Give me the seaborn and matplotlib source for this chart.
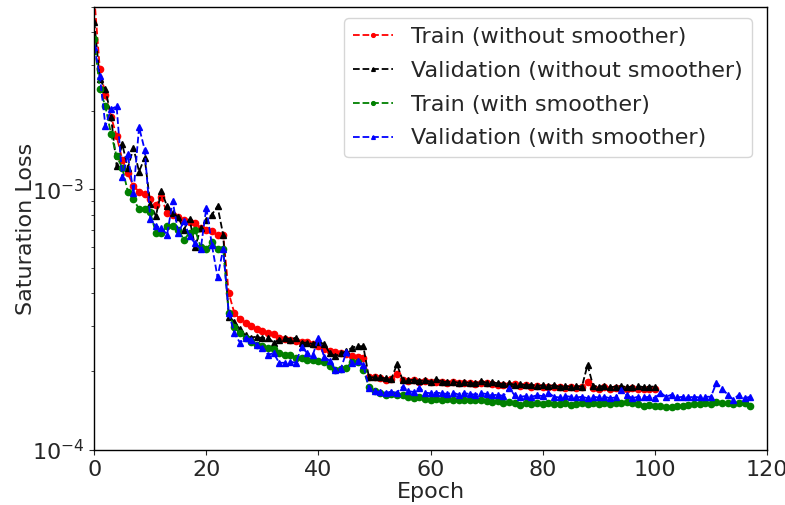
import numpy as np
import pandas as pd
import matplotlib
matplotlib.use("Agg")
import matplotlib.pyplot as plt
import seaborn as sns

# Saturation loss per epoch
train_no_smoother = [
    5.5e-3, 2.9e-3, 2.3e-3, 1.9e-3, 1.6e-3, 1.3e-3, 1.15e-3, 1.03e-3, 0.98e-3, 0.96e-3,
    0.915e-3, 0.87e-3, 0.93e-3, 0.81e-3, 0.80e-3, 0.78e-3, 0.76e-3, 0.75e-3, 0.74e-3, 0.71e-3,
    0.70e-3, 0.69e-3, 0.665e-3, 0.67e-3, 0.40e-3, 0.335e-3, 0.318e-3, 0.308e-3, 0.298e-3, 0.292e-3,
    0.287e-3, 0.28e-3, 0.279e-3, 0.27e-3, 0.266e-3, 0.265e-3, 0.262e-3, 0.26e-3, 0.259e-3, 0.254e-3,
    0.25e-3, 0.245e-3, 0.24e-3, 0.237e-3, 0.235e-3, 0.233e-3, 0.23e-3, 0.228e-3, 0.226e-3, 0.19e-3,
    0.19e-3, 0.189e-3, 0.186e-3, 0.187e-3, 0.195e-3, 0.185e-3, 0.184e-3, 0.185e-3, 0.183e-3, 0.184e-3,
    0.182e-3, 0.183e-3, 0.182e-3, 0.181e-3, 0.182e-3, 0.180e-3, 0.181e-3, 0.180e-3, 0.179e-3, 0.181e-3,
    0.180e-3, 0.179e-3, 0.178e-3, 0.178e-3, 0.177e-3, 0.179e-3, 0.176e-3, 0.177e-3, 0.175e-3, 0.176e-3,
    0.174e-3, 0.175e-3, 0.174e-3, 0.175e-3, 0.173e-3, 0.174e-3, 0.173e-3, 0.174e-3, 0.182e-3, 0.173e-3,
    0.172e-3, 0.174e-3, 0.172e-3, 0.173e-3, 0.171e-3, 0.172e-3, 0.173e-3, 0.171e-3, 0.172e-3, 0.171e-3,
    0.172e-3,
]

val_no_smoother = [
    4.4e-3, 2.65e-3, 2.42e-3, 1.9e-3, 1.23e-3, 1.49e-3, 1.21e-3, 1.44e-3, 1.17e-3, 1.32e-3,
    0.88e-3, 0.79e-3, 0.985e-3, 0.86e-3, 0.81e-3, 0.78e-3, 0.70e-3, 0.77e-3, 0.60e-3, 0.71e-3,
    0.76e-3, 0.80e-3, 0.86e-3, 0.67e-3, 0.325e-3, 0.31e-3, 0.29e-3, 0.275e-3, 0.27e-3, 0.272e-3,
    0.268e-3, 0.27e-3, 0.258e-3, 0.265e-3, 0.27e-3, 0.265e-3, 0.27e-3, 0.258e-3, 0.258e-3, 0.255e-3,
    0.26e-3, 0.255e-3, 0.236e-3, 0.229e-3, 0.235e-3, 0.239e-3, 0.247e-3, 0.25e-3, 0.25e-3, 0.19e-3,
    0.19e-3, 0.19e-3, 0.188e-3, 0.187e-3, 0.213e-3, 0.186e-3, 0.185e-3, 0.186e-3, 0.184e-3, 0.185e-3,
    0.183e-3, 0.187e-3, 0.183e-3, 0.182e-3, 0.183e-3, 0.181e-3, 0.182e-3, 0.181e-3, 0.180e-3, 0.184e-3,
    0.181e-3, 0.182e-3, 0.180e-3, 0.179e-3, 0.180e-3, 0.178e-3, 0.179e-3, 0.177e-3, 0.178e-3, 0.176e-3,
    0.177e-3, 0.176e-3, 0.177e-3, 0.175e-3, 0.176e-3, 0.175e-3, 0.176e-3, 0.175e-3, 0.212e-3, 0.176e-3,
    0.175e-3, 0.176e-3, 0.174e-3, 0.175e-3, 0.176e-3, 0.174e-3, 0.175e-3, 0.176e-3, 0.174e-3, 0.175e-3,
    0.175e-3,
]

train_smoother = [
    3.77e-3, 2.42e-3, 2.08e-3, 1.63e-3, 1.34e-3, 1.21e-3, 0.98e-3, 0.915e-3, 0.84e-3, 0.84e-3,
    0.815e-3, 0.68e-3, 0.68e-3, 0.72e-3, 0.72e-3, 0.70e-3, 0.64e-3, 0.68e-3, 0.70e-3, 0.60e-3,
    0.59e-3, 0.625e-3, 0.59e-3, 0.59e-3, 0.336e-3, 0.295e-3, 0.28e-3, 0.27e-3, 0.26e-3, 0.253e-3,
    0.25e-3, 0.247e-3, 0.243e-3, 0.235e-3, 0.232e-3, 0.232e-3, 0.226e-3, 0.225e-3, 0.222e-3, 0.222e-3,
    0.22e-3, 0.218e-3, 0.209e-3, 0.203e-3, 0.205e-3, 0.207e-3, 0.218e-3, 0.218e-3, 0.203e-3, 0.175e-3,
    0.168e-3, 0.165e-3, 0.163e-3, 0.164e-3, 0.163e-3, 0.163e-3, 0.160e-3, 0.158e-3, 0.159e-3, 0.157e-3,
    0.156e-3, 0.157e-3, 0.156e-3, 0.157e-3, 0.155e-3, 0.156e-3, 0.155e-3, 0.156e-3, 0.155e-3, 0.155e-3,
    0.154e-3, 0.153e-3, 0.154e-3, 0.152e-3, 0.153e-3, 0.152e-3, 0.149e-3, 0.151e-3, 0.150e-3, 0.151e-3,
    0.150e-3, 0.151e-3, 0.150e-3, 0.150e-3, 0.151e-3, 0.149e-3, 0.150e-3, 0.151e-3, 0.150e-3, 0.151e-3,
    0.150e-3, 0.151e-3, 0.150e-3, 0.152e-3, 0.151e-3, 0.153e-3, 0.151e-3, 0.150e-3, 0.148e-3, 0.149e-3,
    0.147e-3, 0.148e-3, 0.146e-3, 0.146e-3, 0.147e-3, 0.148e-3, 0.149e-3, 0.150e-3, 0.150e-3, 0.151e-3,
    0.150e-3, 0.153e-3, 0.152e-3, 0.151e-3, 0.150e-3, 0.151e-3, 0.152e-3, 0.148e-3,
]

val_smoother = [
    3.52e-3, 2.72e-3, 1.75e-3, 2.03e-3, 2.08e-3, 1.11e-3, 1.36e-3, 0.97e-3, 1.73e-3, 1.42e-3,
    0.77e-3, 0.72e-3, 0.71e-3, 0.67e-3, 0.90e-3, 0.68e-3, 0.755e-3, 0.66e-3, 0.62e-3, 0.59e-3,
    0.85e-3, 0.61e-3, 0.46e-3, 0.59e-3, 0.336e-3, 0.28e-3, 0.258e-3, 0.27e-3, 0.265e-3, 0.253e-3,
    0.247e-3, 0.232e-3, 0.235e-3, 0.216e-3, 0.216e-3, 0.218e-3, 0.216e-3, 0.249e-3, 0.235e-3, 0.232e-3,
    0.268e-3, 0.228e-3, 0.22e-3, 0.203e-3, 0.205e-3, 0.238e-3, 0.215e-3, 0.22e-3, 0.212e-3, 0.173e-3,
    0.168e-3, 0.167e-3, 0.166e-3, 0.167e-3, 0.166e-3, 0.175e-3, 0.168e-3, 0.167e-3, 0.173e-3, 0.166e-3,
    0.165e-3, 0.166e-3, 0.165e-3, 0.164e-3, 0.166e-3, 0.163e-3, 0.165e-3, 0.164e-3, 0.163e-3, 0.165e-3,
    0.164e-3, 0.162e-3, 0.163e-3, 0.161e-3, 0.173e-3, 0.162e-3, 0.160e-3, 0.161e-3, 0.160e-3, 0.162e-3,
    0.161e-3, 0.166e-3, 0.160e-3, 0.159e-3, 0.161e-3, 0.160e-3, 0.159e-3, 0.160e-3, 0.158e-3, 0.160e-3,
    0.159e-3, 0.160e-3, 0.158e-3, 0.159e-3, 0.170e-3, 0.162e-3, 0.158e-3, 0.160e-3, 0.159e-3, 0.160e-3,
    0.158e-3, 0.166e-3, 0.160e-3, 0.163e-3, 0.159e-3, 0.160e-3, 0.159e-3, 0.160e-3, 0.159e-3, 0.160e-3,
    0.160e-3, 0.181e-3, 0.172e-3, 0.163e-3, 0.156e-3, 0.163e-3, 0.158e-3, 0.160e-3,
]

series_labels = [
    "Train (without smoother)",
    "Validation (without smoother)",
    "Train (with smoother)",
    "Validation (with smoother)",
]
series_values = [train_no_smoother, val_no_smoother, train_smoother, val_smoother]
series_colors = ["red", "black", "green", "blue"]
series_markers = ["o", "^", "o", "^"]

sns.set_style("ticks")
plt.rcParams["font.family"] = ["DejaVu Sans"]
plt.rcParams["axes.edgecolor"] = "black"

fig = plt.figure(figsize=(7.85, 5.05), dpi=100)
ax = fig.add_axes([0.12, 0.109, 0.857, 0.877])

for label, values, color, marker in zip(series_labels, series_values,
                                        series_colors, series_markers):
    df = pd.DataFrame({"Epoch": np.arange(len(values)), "Loss": values})
    sns.lineplot(data=df, x="Epoch", y="Loss", ax=ax, color=color,
                 linestyle="--", marker=marker, markersize=4.5,
                 markeredgewidth=1.0, markeredgecolor=color,
                 linewidth=1.3, label=label)

ax.set_yscale("log")
ax.set_xlim(0, 120)
ax.set_ylim(1e-4, 5e-3)
ax.set_xticks([0, 20, 40, 60, 80, 100, 120])
ax.set_xlabel("Epoch", fontsize=16, labelpad=2)
ax.set_ylabel("Saturation Loss", fontsize=16, labelpad=-3)
ax.tick_params(axis="both", which="major", labelsize=16)
for side in ["top", "right", "left", "bottom"]:
    ax.spines[side].set_visible(True)
    ax.spines[side].set_linewidth(1.0)

ax.legend(loc="upper right", bbox_to_anchor=(0.994, 1.0), fontsize=16,
          markerscale=0.6, frameon=True, handlelength=1.8,
          labelspacing=0.62, borderaxespad=0.5)

fig.savefig("out.png", dpi=100)
